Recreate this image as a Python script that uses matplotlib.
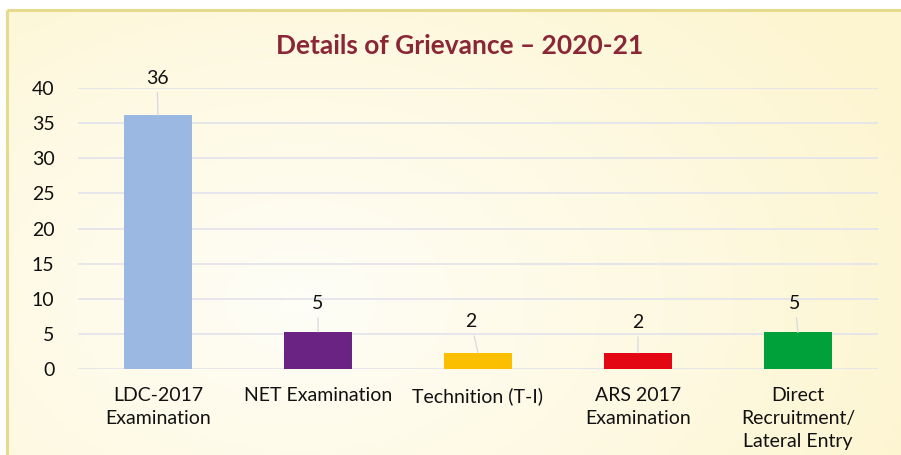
import numpy as np
import matplotlib
matplotlib.use("Agg")
import matplotlib.pyplot as plt
from matplotlib.patches import Rectangle

categories = ["LDC-2017\nExamination", "NET Examination", "Technition (T-I)",
              "ARS 2017\nExamination", "Direct\nRecruitment/\nLateral Entry"]
bar_heights = [36.1, 5.3, 2.3, 2.3, 5.2]
label_values = [36, 5, 2, 2, 5]
yticks = [0, 5, 10, 15, 20, 25, 30, 35, 40]
title = "Details of Grievance \u2013 2020-21"

colors = ["#9BB8E2", "#6A2382", "#FBBF00", "#E30613", "#00A03B"]
label_offsets = [(-1, 37), (0, 28), (-7, 31), (0, 30), (-3, 29)]

plt.rcParams['font.family'] = ['Lato', 'DejaVu Sans']

W, H = 901, 455
fig = plt.figure(figsize=(W / 100, H / 100), dpi=100)

# background gradient
bg = fig.add_axes([0, 0, 1, 1], zorder=-10)
yy, xx = np.mgrid[0:H, 0:W]
d = np.sqrt(((xx - 300) / 900.0) ** 2 + ((yy - 300) / 600.0) ** 2)
d = np.clip(d / 0.75, 0, 1)
c0 = np.array([255, 254, 247]) / 255.0
c1 = np.array([253, 245, 208]) / 255.0
img = c0[None, None, :] * (1 - d[..., None]) + c1[None, None, :] * d[..., None]
# white margins outside the frame
img[:10, :, :] = 1.0
img[:, :7, :] = 1.0
bg.imshow(img, aspect='auto', extent=[0, W, H, 0])
bg.add_patch(Rectangle((7, 10), W + 20, H + 20, fill=False,
                       edgecolor="#E6DA8C", linewidth=2.2))
bg.set_xlim(0, W)
bg.set_ylim(H, 0)
bg.axis('off')

ax = fig.add_axes([78 / W, (H - 369) / H, 800 / W, 281 / H])
ax.patch.set_alpha(0)
x = np.arange(len(categories))
ax.bar(x, bar_heights, width=0.425, color=colors, zorder=3)
ax.set_xlim(-0.5, len(categories) - 0.5)
ax.set_ylim(0, 40)
ax.set_yticks(yticks)
ax.set_yticklabels([str(t) for t in yticks], fontsize=14)
ax.set_xticks(x)
ax.set_xticklabels(categories, fontsize=14, linespacing=1.43)
ax.tick_params(axis='both', length=0, colors='#111111')
ax.tick_params(axis='y', pad=17)
ax.tick_params(axis='x', pad=13)
ax.grid(axis='y', color='#E2E2EC', linewidth=1.2, zorder=0)
for s in ax.spines.values():
    s.set_visible(False)

for i, (h, v) in enumerate(zip(bar_heights, label_values)):
    dx, dy = label_offsets[i]
    ax.annotate(f"{v}", xy=(i, h), xytext=(dx, dy), textcoords='offset pixels',
                ha='center', va='center', fontsize=14, color='#111111',
                arrowprops=dict(arrowstyle='-', color='#D8D8DE', lw=0.9,
                                shrinkA=2, shrinkB=0),
                zorder=4)

fig.text(460 / W, 1 - 46 / H, title, ha='center', va='center',
         fontsize=19, fontweight='bold', color='#8A2636')

fig.savefig("out.png", dpi=100)
